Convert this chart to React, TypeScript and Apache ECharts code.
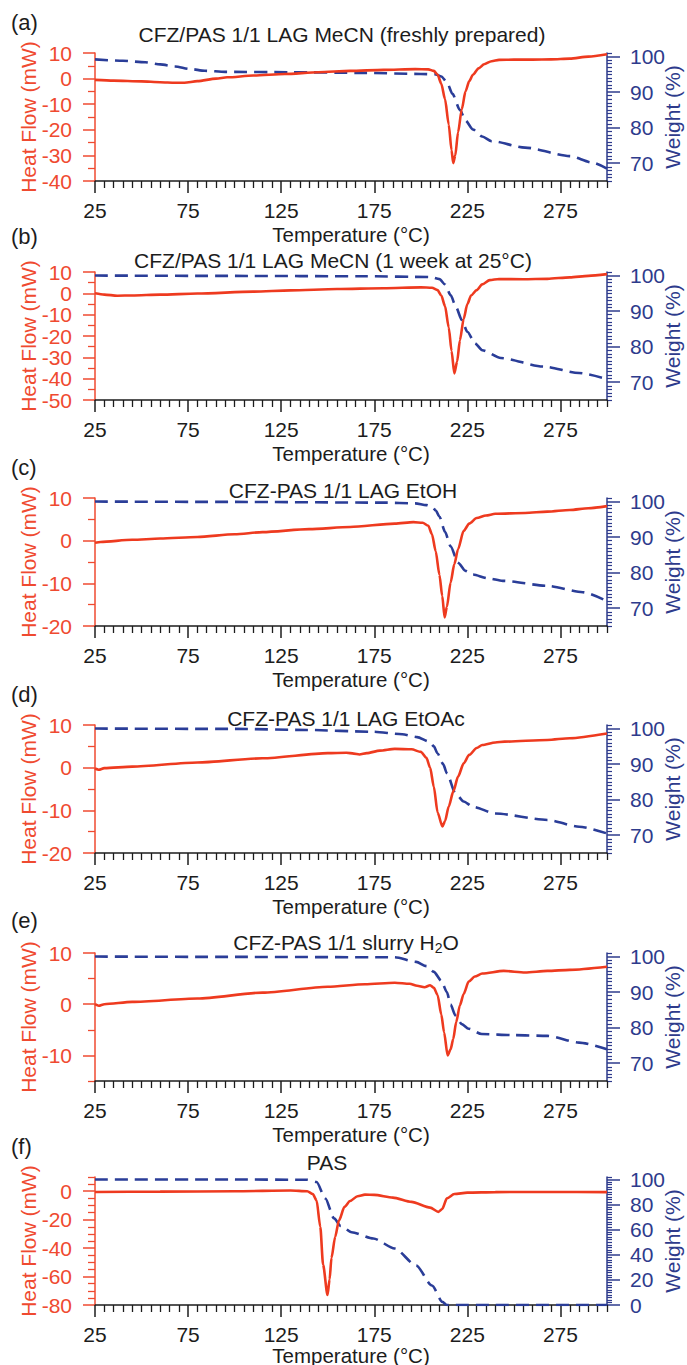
import React, { useEffect, useRef } from 'react';
import * as echarts from 'echarts';

// ---------- data (temperature °C, value) ----------
const dscA = [
  [25, -0.5], [35, -0.8], [50, -1.1], [60, -1.4], [68, -1.6], [73, -1.6], [80, -1.0], [90, 0.0], [96, 0.5],
  [110, 1.2], [127, 1.8], [145, 2.5], [162, 3.0], [180, 3.4], [197, 3.7], [204, 3.6], [207, 3.0], [209, 1.5],
  [211, -2], [213, -8], [215, -18], [216.5, -28], [217.4, -33], [218.5, -30], [220, -21], [222, -12], [224, -5],
  [226, -1], [228, 1.5], [231, 4], [234, 5.6], [238, 6.8], [242, 7.3], [250, 7.4], [260, 7.4], [270, 7.5],
  [280, 7.8], [290, 8.6], [300, 9.5],
];
const tgaA = [
  [25, 99.2], [40, 98.8], [52, 98.4], [60, 97.8], [68, 97.2], [76, 96.5], [84, 96.0], [95, 95.7], [130, 95.6],
  [170, 95.4], [200, 95.1], [208, 95.0], [211, 94.4], [214, 92.8], [217, 89.5], [221, 85], [224, 82], [228, 79.5],
  [233, 77.5], [238, 76.2], [256, 74.4], [280, 72], [292, 70.2], [300, 68.5],
];
const dscB = [
  [25, 0], [30, -0.6], [37, -1.1], [45, -1.0], [60, -0.6], [80, -0.1], [110, 0.8], [130, 1.4], [155, 2.0],
  [180, 2.4], [200, 2.8], [206, 2.6], [209, 1.5], [211, -1], [213, -6], [215, -16], [216.5, -27], [218, -37.5],
  [219.5, -32], [221, -22], [223, -12], [225, -5], [227, -1], [230, 1.5], [233, 4.2], [237, 6.2], [242, 6.7],
  [255, 6.6], [268, 6.8], [280, 7.5], [290, 8.2], [300, 9],
];
const tgaB = [
  [25, 100], [100, 99.9], [170, 99.8], [205, 99.6], [210, 99.0], [213, 97.5], [216, 94.5], [219, 91], [222, 87.5],
  [225, 84.2], [229, 81], [233, 79], [243, 76.8], [266, 74.4], [285, 72.6], [300, 70.9],
];
const dscC = [
  [25, -0.5], [28, -0.3], [45, 0.2], [60, 0.5], [80, 0.85], [100, 1.5], [115, 2.0], [140, 2.7], [162, 3.2],
  [186, 4.0], [196, 4.35], [201, 4.2], [204, 3.5], [206, 1.5], [208, -2.5], [210, -8], [211.5, -13], [212.8, -18],
  [214, -15.5], [216, -9.8], [218, -5.5], [220, -2], [223, 2.3], [226, 4.0], [230, 5.3], [235, 5.9], [240, 6.3],
  [256, 6.5], [268, 6.8], [280, 7.2], [290, 7.6], [300, 8.1],
];
const tgaC = [
  [25, 100], [100, 99.9], [180, 99.7], [197, 99.5], [203, 99.0], [206, 98.6], [208, 97.5], [210, 95.8], [213, 91.5],
  [216, 87.4], [220, 82.8], [224, 80.5], [228, 79.5], [236, 78.4], [244, 77.7], [268, 76.3], [287, 74.5], [300, 72],
];
const dscD = [
  [25, -0.2], [27, -0.5], [30, -0.1], [45, 0.25], [80, 1.2], [115, 2.2], [150, 3.4], [160, 3.5], [164, 3.3],
  [167, 3.1], [171, 3.4], [178, 4.0], [186, 4.4], [195, 4.3], [200, 3.7], [203, 2.3], [205, 0], [207, -4.5],
  [209, -10.5], [211.6, -13.8], [213, -12.5], [215, -9.1], [217.5, -5.5], [220, -2.1], [223, 1], [226, 3],
  [230, 4.6], [233, 5.3], [240, 5.9], [245, 6.1], [268, 6.5], [280, 6.9], [300, 8],
];
const tgaD = [
  [25, 100], [100, 99.9], [139, 99.6], [174, 99.1], [190, 98.4], [198, 97.6], [204.6, 96.3], [207, 95], [209, 93],
  [212, 90], [214, 87.4], [218.6, 81.8], [223, 79.5], [228, 78], [240, 76.1], [268, 74.3], [285, 72.4], [300, 70.5],
];
const dscE = [
  [25, 0], [27, -0.3], [30, 0], [45, 0.45], [80, 1.1], [115, 2.26], [150, 3.4], [170, 3.9], [186, 4.2], [194, 4.0],
  [198, 3.6], [202, 3.3], [205, 3.7], [207, 3.2], [209, 1.8], [211, -2], [212.5, -5.5], [214.4, -10], [216, -8.8],
  [217.4, -6.8], [219, -3.5], [221, -0.2], [223, 2], [225.7, 4.4], [229, 5.4], [233, 6], [244.5, 6.5], [256, 6.2],
  [268, 6.5], [280, 6.7], [300, 7.3],
];
const tgaE = [
  [25, 100], [100, 99.9], [186, 99.8], [197.5, 98.5], [203, 97.3], [207, 95.7], [211, 93.2], [214, 90], [216, 86.5],
  [218.6, 83.4], [222, 81], [225.7, 79.7], [232.7, 78.2], [250, 77.9], [268, 77.7], [285, 75.8], [300, 73.9],
];
const dscF = [
  [25, -0.5], [60, -0.3], [100, 0], [130, 0.5], [139, 0], [142, -2], [144, -6.4], [146, -25], [147.5, -51.6],
  [149.9, -73], [151, -62], [152, -47], [154, -32], [156, -20.7], [159, -11], [162, -6.9], [166, -3.5], [170, -2.4],
  [175, -2.6], [185, -4.5], [195, -7.5], [205, -11.5], [209.5, -14.5], [211.5, -12.5], [214, -5], [218, -2], [225, -1],
  [240, -0.6], [270, -0.5], [300, -0.6],
];
const tgaF = [
  [25, 100], [100, 100], [139, 99.8], [144, 98], [148.7, 85], [153.4, 69], [157, 63], [162.8, 58], [174.5, 53],
  [186, 45], [197.5, 31.5], [206, 15.5], [211.6, 2.5], [214, 0], [300, 0],
];

const tempMajor = [25, 75, 125, 175, 225, 275];
const panelLetters = ['(a)', '(b)', '(c)', '(d)', '(e)', '(f)'];
const panelTitles = [
  'CFZ/PAS 1/1 LAG MeCN (freshly prepared)',
  'CFZ/PAS 1/1 LAG MeCN (1 week at 25°C)',
  'CFZ-PAS 1/1 LAG EtOH',
  'CFZ-PAS 1/1 LAG EtOAc',
  '{n|CFZ-PAS 1/1 slurry H}{s|2}{n|O}',
  'PAS',
];
const heatMin = [-40, -50, -20, -20, -15, -80];
const heatMax = [10, 10, 10, 10, 10, 10];
const heatMajor = [
  [-40, -30, -20, -10, 0, 10],
  [-50, -40, -30, -20, -10, 0, 10],
  [-20, -10, 0, 10],
  [-20, -10, 0, 10],
  [-10, 0, 10],
  [-80, -60, -40, -20, 0],
];
const heatMinorStep = [5, 5, 5, 5, 5, 5];
const weightMin = [65, 65, 65, 65, 65, 0];
const weightMax = [101, 101, 101, 101, 101, 102];
const weightMajor = [
  [70, 80, 90, 100], [70, 80, 90, 100], [70, 80, 90, 100], [70, 80, 90, 100], [70, 80, 90, 100],
  [0, 20, 40, 60, 80, 100],
];
const weightMinorStep = [1, 1, 1, 1, 1, 2];
const dscSeries = [dscA, dscB, dscC, dscD, dscE, dscF];
const tgaSeries = [tgaA, tgaB, tgaC, tgaD, tgaE, tgaF];

// ---------- layout / style ----------
const W = 687;
const H = 1365;
const GRID_TOPS = [53, 272, 498, 725, 953, 1177];
const GRID_H = 128;
const GRID_LEFT = 95;
const GRID_RIGHT = 80;
const LETTER_Y = [22, 236, 467, 694, 920, 1146];
const TITLE_X = [342, 333, 343, 346, 346, 327];
const TITLE_Y = [34, 260, 490, 718, 942, 1162];
const XNAME_GAP = [53, 53, 53, 53, 53, 50];
const FONT = '"Liberation Sans", Arial, Helvetica, sans-serif';
const RED = '#EF4A30';
const RED_LINE = '#EE3A1F';
const BLUE = '#2E3B8C';
const BLUE_LINE = '#2A3D98';
const DARK = '#1c1c1c';

function stepValues(min: number, max: number, step: number, exclude: number[]) {
  const out: number[] = [];
  for (let v = min; v <= max + 1e-9; v += step) {
    const r = Math.round(v * 1000) / 1000;
    if (!exclude.includes(r)) out.push(r);
  }
  return out;
}

function buildOption() {
  const grid: any[] = [];
  const xAxis: any[] = [];
  const yAxis: any[] = [];
  const series: any[] = [];
  const graphic: any[] = [];

  for (let i = 0; i < 6; i++) {
    grid.push({ left: GRID_LEFT, right: GRID_RIGHT, top: GRID_TOPS[i], height: GRID_H, containLabel: false });

    const xMainIdx = xAxis.length;
    xAxis.push({
      type: 'value', gridIndex: i, position: 'bottom', min: 25, max: 300,
      axisLine: { show: true, onZero: false, lineStyle: { color: DARK, width: 1.5 } },
      axisTick: { show: true, customValues: tempMajor, length: 12, lineStyle: { color: DARK, width: 1.5 } },
      axisLabel: { show: true, customValues: tempMajor, margin: 19, fontSize: 21, color: DARK, fontFamily: FONT },
      splitLine: { show: false },
    });
    xAxis.push({
      type: 'value', gridIndex: i, position: 'bottom', min: 25, max: 300,
      axisLine: { show: false, onZero: false },
      axisTick: { show: true, customValues: stepValues(25, 300, 5, tempMajor), length: 7, lineStyle: { color: DARK, width: 1.3 } },
      axisLabel: { show: false },
      splitLine: { show: false },
    });

    const yLeftIdx = yAxis.length;
    yAxis.push({
      type: 'value', gridIndex: i, position: 'left', min: heatMin[i], max: heatMax[i],
      axisLine: { show: true, onZero: false, lineStyle: { color: RED, width: 1.5 } },
      axisTick: { show: true, customValues: heatMajor[i], length: 12, lineStyle: { color: RED, width: 1.5 } },
      axisLabel: { show: true, customValues: heatMajor[i], margin: 23, fontSize: 21, color: RED, fontFamily: FONT },
      splitLine: { show: false },
    });
    yAxis.push({
      type: 'value', gridIndex: i, position: 'left', min: heatMin[i], max: heatMax[i],
      axisLine: { show: false, onZero: false },
      axisTick: { show: true, customValues: stepValues(heatMin[i], heatMax[i], heatMinorStep[i], heatMajor[i]), length: 7, lineStyle: { color: RED, width: 1.3 } },
      axisLabel: { show: false },
      splitLine: { show: false },
    });
    const yRightIdx = yAxis.length;
    yAxis.push({
      type: 'value', gridIndex: i, position: 'right', min: weightMin[i], max: weightMax[i],
      axisLine: { show: true, onZero: false, lineStyle: { color: BLUE, width: 1.5 } },
      axisTick: { show: true, customValues: weightMajor[i], length: 13, lineStyle: { color: BLUE, width: 1.5 } },
      axisLabel: { show: true, customValues: weightMajor[i], margin: 23, fontSize: 21, color: BLUE, fontFamily: FONT },
      splitLine: { show: false },
    });
    yAxis.push({
      type: 'value', gridIndex: i, position: 'right', min: weightMin[i], max: weightMax[i],
      axisLine: { show: false, onZero: false },
      axisTick: { show: true, customValues: stepValues(weightMin[i], weightMax[i], weightMinorStep[i], weightMajor[i]), length: 5, lineStyle: { color: BLUE, width: 1.2 } },
      axisLabel: { show: false },
      splitLine: { show: false },
    });

    series.push({
      type: 'line', xAxisIndex: xMainIdx, yAxisIndex: yRightIdx, data: tgaSeries[i],
      showSymbol: false, smooth: 0.25, smoothMonotone: 'x', silent: true,
      lineStyle: { color: BLUE_LINE, width: 2.6, type: [13, 7] }, z: 3,
    });
    series.push({
      type: 'line', xAxisIndex: xMainIdx, yAxisIndex: yLeftIdx, data: dscSeries[i],
      showSymbol: false, smooth: 0.25, smoothMonotone: 'x', silent: true,
      lineStyle: { color: RED_LINE, width: 2.6 }, z: 4,
    });

    const midY = GRID_TOPS[i] + GRID_H / 2;
    graphic.push({
      type: 'text', x: 11, y: LETTER_Y[i],
      style: { text: panelLetters[i], fontSize: 22, fontFamily: FONT, fill: DARK, align: 'left', verticalAlign: 'middle' },
    });
    graphic.push({
      type: 'text', x: TITLE_X[i], y: TITLE_Y[i],
      style: {
        text: panelTitles[i], fontSize: 21, fontFamily: FONT, fill: DARK, align: 'center', verticalAlign: 'middle',
        rich: {
          n: { fontSize: 21, fontFamily: FONT, fill: DARK, lineHeight: 25 },
          s: { fontSize: 14, fontFamily: FONT, fill: DARK, lineHeight: 14, verticalAlign: 'bottom' },
        },
      },
    });
    graphic.push({
      type: 'text', x: 351, y: GRID_TOPS[i] + GRID_H + XNAME_GAP[i],
      style: { text: 'Temperature (°C)', fontSize: 20.5, fontFamily: FONT, fill: DARK, align: 'center', verticalAlign: 'middle' },
    });
    graphic.push({
      type: 'text', x: 28, y: midY, rotation: Math.PI / 2,
      style: { text: 'Heat Flow (mW)', fontSize: 21, fontFamily: FONT, fill: RED, align: 'center', verticalAlign: 'middle' },
    });
    graphic.push({
      type: 'text', x: 672, y: midY, rotation: Math.PI / 2,
      style: { text: 'Weight (%)', fontSize: 21, fontFamily: FONT, fill: BLUE, align: 'center', verticalAlign: 'middle' },
    });
  }

  return {
    animation: false,
    backgroundColor: '#ffffff',
    textStyle: { fontFamily: FONT },
    grid, xAxis, yAxis, series, graphic,
  };
}

export default function App() {
  const ref = useRef<HTMLDivElement>(null);
  useEffect(() => {
    if (!ref.current) return;
    const chart = echarts.init(ref.current, undefined, { renderer: 'svg' });
    chart.setOption(buildOption() as any);
    return () => chart.dispose();
  }, []);
  return <div ref={ref} style={{ position: 'absolute', left: 0, top: 0, width: W, height: H }} />;
}
